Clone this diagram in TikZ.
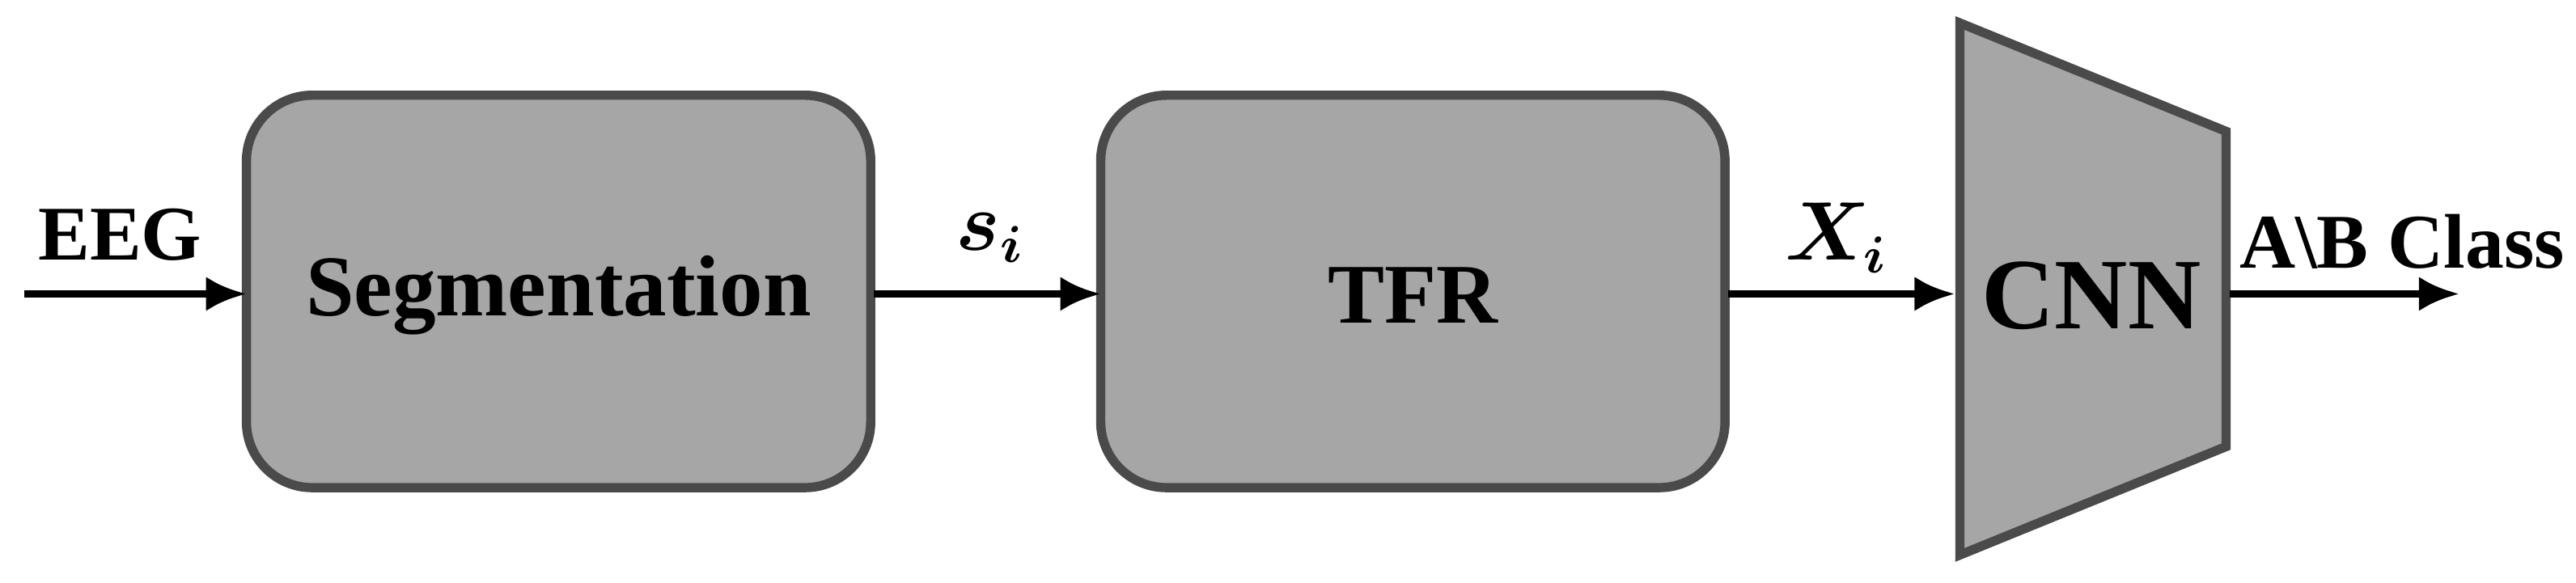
\documentclass[tikz,border=0pt]{standalone}
\usepackage{amsmath,bm}
\usepackage{fontspec}
\setmainfont{Liberation Serif}
\usetikzlibrary{arrows.meta}
\definecolor{boxfill}{HTML}{A6A6A6}
\definecolor{boxline}{HTML}{4A4A4A}
\begin{document}
\begin{tikzpicture}[x=0.01cm,y=-0.01cm,
  blk/.style={draw=boxline,fill=boxfill,line width=1.6pt,rounded corners=0.4cm},
  arr/.style={-{Latex[length=7pt,width=6pt]},line width=1.3pt},
  lbl/.style={font=\bfseries\fontsize{13.4}{16}\selectfont}]
\useasboundingbox (0,0) rectangle (1568,355);
\draw[blk] (150,58) rectangle (530,297);
\node[font=\bfseries\fontsize{15}{18}\selectfont] (seg) at (340,180) {Segmentation};
\draw[blk] (670,58) rectangle (1050,297);
\node[font=\bfseries\fontsize{14.7}{18}\selectfont] (tfr) at (860,180) {TFR};
\draw[draw=boxline,fill=boxfill,line width=1.6pt,line join=miter] (1193,14) -- (1355,80) -- (1355,272) -- (1193,338) -- cycle;
\node[font=\bfseries\fontsize{17.5}{21}\selectfont] (cnn) at (1273,180) {CNN};
\coordinate (in) at (15,179);
\coordinate (segL) at (150,179);
\coordinate (segR) at (532,179);
\coordinate (tfrL) at (670,179);
\coordinate (tfrR) at (1052,179);
\coordinate (cnnL) at (1190,179);
\coordinate (cnnR) at (1357,179);
\coordinate (out) at (1497,179);
\draw[arr] (in) -- (segL);
\draw[arr] (segR) -- (tfrL);
\draw[arr] (tfrR) -- (cnnL);
\draw[arr] (cnnR) -- (out);
\node[lbl] (eeg) at (73,143) {EEG};
\node[lbl] (si) at (603,145) {$\bm{s_i}$};
\node[lbl] (xi) at (1118,145) {$\bm{X_i}$};
\node[lbl] (cls) at (1462,147) {A\textbackslash B Class};
\end{tikzpicture}
\end{document}
